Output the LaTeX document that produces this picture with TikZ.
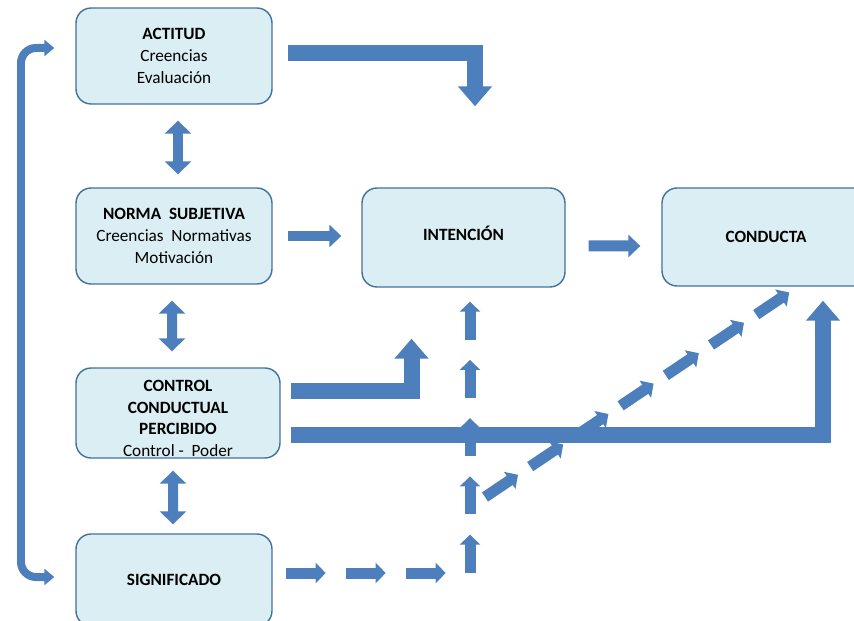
\documentclass[tikz,border=0pt]{standalone}
\usepackage{fontspec}
\setmainfont{Carlito}
\usepackage{tikz}
\usetikzlibrary{positioning, calc, arrows.meta}
\definecolor{arrowblue}{RGB}{76,127,188}
\definecolor{boxfill}{RGB}{219,238,244}
\definecolor{boxline}{RGB}{65,113,156}

\begin{document}
\begin{tikzpicture}[x=0.02cm, y=-0.02cm,
        box/.style={rectangle, rounded corners=0.3cm, draw=boxline, fill=boxfill, line width=0.8pt, align=center, inner sep=0pt, font=\fontsize{9.8}{12.3}\selectfont},
        bigarrow/.style={draw=arrowblue, line width=0.32cm, line join=miter, -{Triangle[width=0.66cm, length=0.4cm]}},
        medarrow/.style={draw=arrowblue, line width=0.22cm, -{Triangle[width=0.44cm, length=0.24cm]}},
        dblarrow/.style={draw=arrowblue, line width=0.2cm, {Triangle[width=0.52cm, length=0.26cm]}-{Triangle[width=0.52cm, length=0.26cm]}},
        dasharrow/.style={draw=arrowblue, line width=0.22cm, -{Triangle[width=0.4cm, length=0.2cm]}},
        loopline/.style={draw=arrowblue, line width=0.16cm, rounded corners=0.3cm, {Triangle[width=0.32cm, length=0.2cm]}-{Triangle[width=0.32cm, length=0.2cm]}}
    ]
        \useasboundingbox (0,0) rectangle (854,621);

        % Boxes
        \node[box, minimum width=3.92cm, minimum height=1.92cm] (act) at (174,56) {\textbf{ACTITUD}\\Creencias\\Evaluación};
        \node[box, minimum width=3.92cm, minimum height=1.92cm] (norma) at (174,236) {\textbf{NORMA\ \ SUBJETIVA}\\Creencias\ \ Normativas\\Motivación};
        \node[box, minimum width=4.08cm, minimum height=1.8cm] (ctrl) at (178,413) {\rule{0pt}{12.6pt}\textbf{CONTROL}\\\textbf{CONDUCTUAL}\\\textbf{PERCIBIDO}\\Control -\ \ Poder};
        \node[box, minimum width=3.92cm, minimum height=1.84cm] (sig) at (174,580) {\textbf{SIGNIFICADO}};
        \node[box, minimum width=4.06cm, minimum height=1.98cm] (inten) at (463.5,237.5) {\textbf{INTENCIÓN}\\[-0.75em]};
        \node[box, minimum width=4.16cm, minimum height=1.96cm] (cond) at (766,237) {\textbf{CONDUCTA}};

        % Loop on the left
        \coordinate (lft) at (21,300);
        \draw[loopline] ([xshift=-.42cm, yshift=.16cm]act.west) -| (lft) |- ([xshift=-.42cm, yshift=.06cm]sig.west);

        % Double arrows between the boxes
        \draw[dblarrow] ([xshift=.08cm, yshift=-.32cm]act.south) -- ([xshift=.08cm, yshift=.26cm]norma.north);
        \draw[dblarrow] ([xshift=-.04cm, yshift=-.32cm]norma.south) -- ([xshift=-.12cm, yshift=.32cm]ctrl.north);
        \draw[dblarrow] ([xshift=-.1cm, yshift=-.24cm]ctrl.south) -- ([xshift=-.02cm, yshift=.18cm]sig.north);

        % Dashed arrows from Significado
        \coordinate (sigout) at ([xshift=.26cm, yshift=.14cm]sig.east);
        \foreach \i in {0,1,2}
            \draw[dasharrow] ([xshift=\i*1.2cm]sigout) -- ++(40,0);
        \coordinate (vbase) at ([xshift=.13cm, yshift=-5.7cm]inten.south);
        \foreach \i in {0,...,4}
            \draw[dasharrow] ([yshift=\i*1.165cm]vbase) -- ++(0,-38);
        \coordinate (dbase) at (485,497);
        \foreach \i in {0,...,6}
            \draw[dasharrow] ($(dbase)+(\i*45.2,-\i*30.4)$) -- ++(33,-22.2);

        % Main arrows
        \draw[bigarrow] ([xshift=.3cm, yshift=.05cm]act.east) -| ([xshift=.23cm, yshift=1.62cm]inten.north);
        \draw[medarrow] ([xshift=.3cm]norma.east) -- ([xshift=-.4cm]norma.east -| inten.west);
        \draw[medarrow] ([xshift=.46cm, yshift=-.17cm]inten.east) -- ([xshift=-.42cm, yshift=-.18cm]cond.west);
        \draw[bigarrow] ([xshift=.2cm, yshift=.45cm]ctrl.east) -| ([xshift=-1.04cm, yshift=-1.02cm]inten.south);
        \draw[bigarrow] ([xshift=.2cm, yshift=-.44cm]ctrl.east) -| ([xshift=1.14cm, yshift=-.28cm]cond.south);
    \end{tikzpicture}
\end{document}
